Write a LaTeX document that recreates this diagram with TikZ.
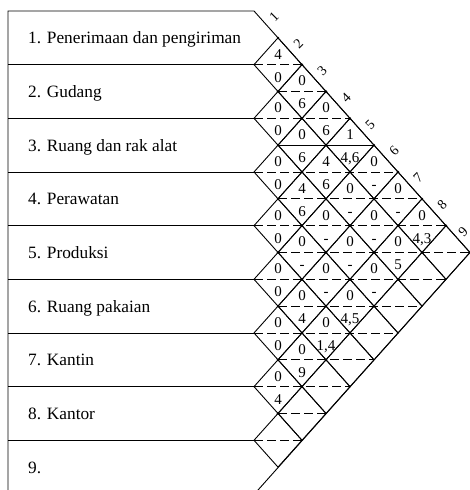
\documentclass[tikz,border=0pt]{standalone}
\usepackage{fontspec}
\setmainfont{Liberation Serif}
\usetikzlibrary{calc}
\tikzset{
    garis/.style={line width=0.9pt},%实线
    putus/.style={line width=0.9pt,dash pattern=on 9pt off 4pt},%虚线
    ruang/.style={anchor=base west,inner sep=0pt,font=\fontsize{17.3}{20}\selectfont},
    nilai/.style={anchor=base,inner sep=0pt,font=\fontsize{15}{16}\selectfont},
    nomor/.style={inner sep=0pt,rotate=45,font=\fontsize{14}{16}\selectfont}
}
\begin{document}
\begin{tikzpicture}[x=1pt,y=-1pt]
    \useasboundingbox (0,0) rectangle (470,490);%图的大小
    \def\dx{24}\def\dy{26.83}%菱形的半宽和半高
    \draw[garis] (8,11)--(254,11)--(470,252.5)--(254,494.5)--(8,494.5)--cycle;
    \foreach \r in {1,...,8}%左边表格的横线
    {
        \draw[garis] (8,11+\r*2*\dy)--(254,11+\r*2*\dy);
    }
    \foreach \r/\nama in {1/Penerimaan dan pengiriman,2/Gudang,3/Ruang dan rak alat,
        4/Perawatan,5/Produksi,6/Ruang pakaian,7/Kantin,8/Kantor}
    {
        \node[ruang] (ruang\r) at (28,11+\r*2*\dy-\dy+6) {\r. \nama};
    }
    \node[ruang] (ruang9) at (28,11+17*\dy+6) {9.};
    \foreach \i in {1,...,8}%菱形
    {
        \pgfmathtruncatemacro\awal{\i+1}
        \foreach \j in {\awal,...,9}
        {
            \pgfmathsetmacro\cx{254+(\j-\i)*\dx}
            \pgfmathsetmacro\cy{11+(\i+\j-1)*\dy}
            \draw[garis] (\cx-\dx,\cy)--(\cx,\cy-\dy)--(\cx+\dx,\cy)--(\cx,\cy+\dy)--cycle;
        }
    }
    \foreach \k in {2,3,4,6,7,8,9,10,11,12,13,14,15,16}%菱形中间的虚线
    {
        \pgfmathtruncatemacro\dmin{1+mod(\k,2)}
        \pgfmathtruncatemacro\dmax{min(\k-1,17-\k)}
        \draw[putus] (254+\dmin*\dx-\dx,11+\k*\dy)--(254+\dmax*\dx+\dx,11+\k*\dy);
    }
    \draw[garis] (254+\dx,11+5*\dy)--(254+5*\dx,11+5*\dy);
    \foreach \m in {1,...,8}%交点
    {
        \foreach \n in {1,...,16}
        {
            \pgfmathtruncatemacro\ok{and(and(\n>=\m,\n<=16-\m),mod(\m+\n,2)==0)}
            \ifnum\ok=1
                \fill (254+\m*\dx,11+\n*\dy) circle (1.3);
            \fi
        }
    }
    \foreach \k in {1,...,9}%上面的编号
    {
        \node[nomor] (no\k) at ({min(254+\k*\dx-0.5*\dx+8.2,463)},11+\k*\dy-0.5*\dy-7.3) {\k};
    }
    \foreach \i/\j/\atas/\bawah in {1/2/4/0,1/3/0/6,1/4/0/6,1/5/1/4{,}6,1/6/0/-,1/7/0/-,1/8/0/4{,}3,
        2/3/0/0,2/4/0/6,2/5/4/6,2/6/0/-,2/7/0/-,2/8/0/5,
        3/4/0/0,3/5/4/6,3/6/0/-,3/7/0/-,3/8/0/-,
        4/5/0/0,4/6/0/-,4/7/0/-,4/8/0/4{,}5,
        5/6/0/0,5/7/0/4,5/8/0/1{,}4,
        6/7/0/0,6/8/0/9,
        7/8/0/4}
    {
        \pgfmathsetmacro\cx{254+(\j-\i)*\dx}
        \pgfmathsetmacro\cy{11+(\i+\j-1)*\dy}
        \node[nilai] (atas\i\j) at (\cx,\cy-5.5) {\atas};
        \node[nilai] (bawah\i\j) at (\cx,\cy+17.5) {\bawah};
    }
\end{tikzpicture}
\end{document}
